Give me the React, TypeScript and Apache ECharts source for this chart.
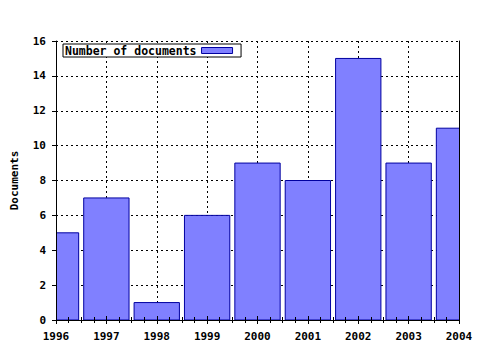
import React, { useEffect, useRef } from "react";
import * as echarts from "echarts";

const years: number[] = [1996, 1997, 1998, 1999, 2000, 2001, 2002, 2003, 2004];
const documents: number[] = [5, 7, 1, 6, 9, 8, 15, 9, 11];
const seriesName = "Number of documents";
const yAxisName = "Documents";
const barWidthInYears = 0.9;

const FONT = "'DejaVu Sans Mono', monospace";

export default function App() {
  const ref = useRef<HTMLDivElement>(null);
  useEffect(() => {
    document.body.style.margin = "0";
    if (!ref.current) return;
    const chart = echarts.init(ref.current, null, { renderer: "svg" });
    const data = years.map((y, i) => [y, documents[i]]);
    const dotted = { color: "#000", width: 1, type: [2, 3] as any };
    const black = { color: "#000", width: 1 };
    const xBase = { type: "value", min: 1996, max: 2004, interval: 1 };
    const yBase = { type: "value", min: 0, max: 16, interval: 2 };
    chart.setOption({
      animation: false,
      backgroundColor: "#fff",
      grid: { left: 56, top: 41, right: 21, bottom: 30, containLabel: false },
      legend: {
        show: true,
        data: [seriesName],
        left: 63,
        top: 44,
        z: 10,
        orient: "horizontal",
        align: "right",
        icon: "rect",
        itemWidth: 31,
        itemHeight: 6,
        padding: [0, 8, 0, 2],
        borderColor: "#000",
        borderWidth: 1,
        backgroundColor: "#fff",
        itemStyle: { color: "#8080ff", borderColor: "#0000a0", borderWidth: 1 },
        textStyle: { fontFamily: FONT, fontWeight: "bold", fontSize: 11.5, color: "#000", lineHeight: 13 },
      },
      xAxis: [
        {
          ...xBase,
          position: "bottom",
          z: 5,
          axisLine: { show: true, lineStyle: black },
          axisTick: { show: true, inside: false, length: 4, lineStyle: black },
          minorTick: { show: true, splitNumber: 4, length: 3, lineStyle: black },
          splitLine: { show: false },
          axisLabel: {
            show: true,
            margin: 11,
            formatter: (v: number) => String(v),
            fontFamily: FONT,
            fontWeight: "bold",
            fontSize: 11,
            color: "#000",
          },
        },
        {
          ...xBase,
          position: "top",
          z: 5,
          axisLine: { show: true, lineStyle: black },
          axisTick: { show: true, inside: false, length: 4, lineStyle: black },
          minorTick: { show: true, splitNumber: 4, length: 3, lineStyle: black },
          splitLine: { show: false },
          axisLabel: { show: false },
        },
        {
          ...xBase,
          position: "bottom",
          z: 0,
          axisLine: { show: false },
          axisTick: { show: false },
          axisLabel: { show: false },
          splitLine: { show: true, lineStyle: dotted },
        },
      ],
      yAxis: [
        {
          ...yBase,
          position: "left",
          z: 5,
          name: yAxisName,
          nameLocation: "middle",
          nameGap: 36,
          nameRotate: 90,
          nameTextStyle: { fontFamily: FONT, fontWeight: "bold", fontSize: 11, color: "#000" },
          axisLine: { show: true, lineStyle: black },
          axisTick: { show: true, inside: false, length: 4, lineStyle: black },
          splitLine: { show: false },
          axisLabel: {
            show: true,
            margin: 10,
            fontFamily: FONT,
            fontWeight: "bold",
            fontSize: 11,
            color: "#000",
          },
        },
        {
          ...yBase,
          position: "right",
          z: 5,
          axisLine: { show: true, lineStyle: black },
          axisTick: { show: false },
          splitLine: { show: false },
          axisLabel: { show: false },
        },
        {
          ...yBase,
          position: "left",
          z: 0,
          axisLine: { show: false },
          axisTick: { show: false },
          axisLabel: { show: false },
          splitLine: { show: true, lineStyle: dotted },
        },
      ],
      series: [
        {
          name: seriesName,
          type: "custom",
          xAxisIndex: 0,
          yAxisIndex: 0,
          z: 2,
          clip: true,
          data,
          encode: { x: 0, y: 1 },
          itemStyle: { color: "#8080ff", borderColor: "#0000a0", borderWidth: 1 },
          renderItem: (params: any, api: any) => {
            const x = api.value(0);
            const y = api.value(1);
            const top = api.coord([x, y]);
            const base = api.coord([x, 0]);
            const w = api.size([barWidthInYears, 0])[0];
            return {
              type: "rect",
              shape: { x: top[0] - w / 2, y: top[1], width: w, height: base[1] - top[1] },
              style: { fill: "#8080ff", stroke: "#0000a0", lineWidth: 1 },
            };
          },
        },
      ],
    });
    return () => chart.dispose();
  }, []);
  return <div ref={ref} style={{ width: 480, height: 350 }} />;
}
